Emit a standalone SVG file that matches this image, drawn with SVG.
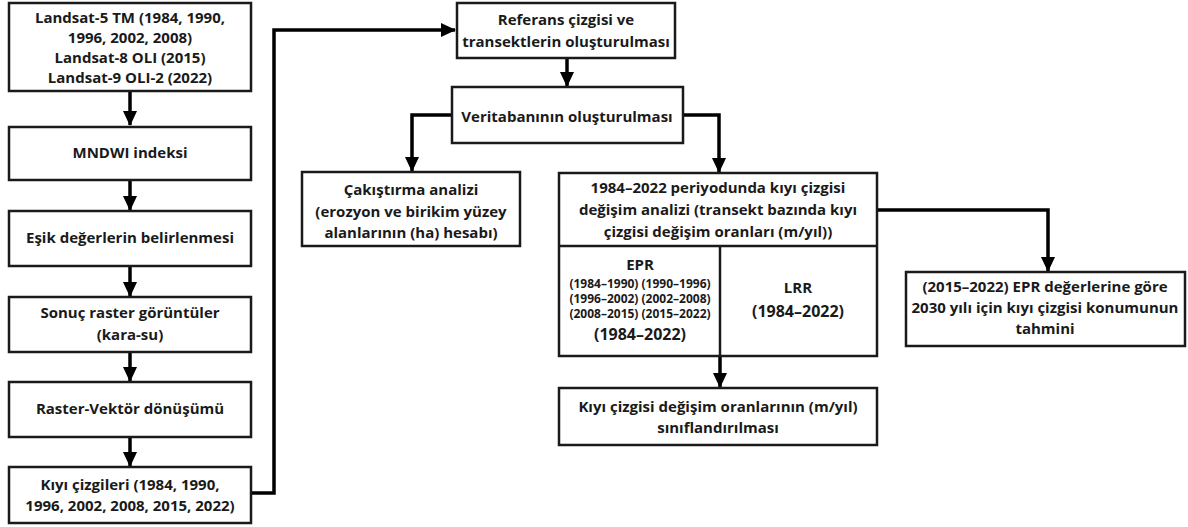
<svg xmlns="http://www.w3.org/2000/svg" width="1188" height="527" viewBox="0 0 1188 527">
<style>
.box{fill:#fff;stroke:#1a1a1a;stroke-width:2.5}
.t{font-family:"Open Sans","Noto Sans","Liberation Sans",sans-serif;font-weight:700;font-size:15px;fill:#1a1a1a;text-anchor:middle}
.s{font-size:12px}
.l{font-size:16px}
.c{fill:none;stroke:#000;stroke-width:3.5}
</style>
<defs>
<marker id="ah" markerUnits="userSpaceOnUse" markerWidth="16" markerHeight="16" viewBox="0 0 16 16" refX="14" refY="8" orient="auto">
<path d="M0,1 L15,8 L0,15 Z" fill="#000"/>
</marker>
</defs>
<g id="connectors">
<line class="c" x1="130" y1="92" x2="130" y2="125" marker-end="url(#ah)"/>
<line class="c" x1="130" y1="181" x2="130" y2="210" marker-end="url(#ah)"/>
<line class="c" x1="130" y1="266" x2="130" y2="296" marker-end="url(#ah)"/>
<line class="c" x1="130" y1="352" x2="130" y2="381" marker-end="url(#ah)"/>
<line class="c" x1="130" y1="437" x2="130" y2="466" marker-end="url(#ah)"/>
<polyline class="c" points="251,493 274,493 274,30 455,30" marker-end="url(#ah)"/>
<line class="c" x1="567" y1="59" x2="567" y2="86" marker-end="url(#ah)"/>
<polyline class="c" points="452,115 412,115 412,171" marker-end="url(#ah)"/>
<polyline class="c" points="683,115 719,115 719,172" marker-end="url(#ah)"/>
<line class="c" x1="720" y1="356" x2="720" y2="387" marker-end="url(#ah)"/>
<polyline class="c" points="877,210 1048,210 1048,271" marker-end="url(#ah)"/>
</g>
<g id="n1"><rect class="box" x="9" y="3" width="242" height="88"/>
<text class="t" x="130" y="23">Landsat-5 TM (1984, 1990,</text>
<text class="t" x="130" y="43">1996, 2002, 2008)</text>
<text class="t" x="130" y="63">Landsat-8 OLI (2015)</text>
<text class="t" x="130" y="83">Landsat-9 OLI-2 (2022)</text></g>
<g id="n2"><rect class="box" x="9" y="127" width="242" height="53"/>
<text class="t" x="130" y="158">MNDWI indeksi</text></g>
<g id="n3"><rect class="box" x="9" y="211" width="242" height="55"/>
<text class="t" x="130" y="243">Eşik değerlerin belirlenmesi</text></g>
<g id="n4"><rect class="box" x="9" y="297" width="242" height="55"/>
<text class="t" x="130" y="318">Sonuç raster görüntüler</text>
<text class="t" x="130" y="340">(kara-su)</text></g>
<g id="n5"><rect class="box" x="9" y="382" width="242" height="55"/>
<text class="t" x="130" y="414">Raster-Vektör dönüşümü</text></g>
<g id="n6"><rect class="box" x="9" y="467" width="242" height="56"/>
<text class="t" x="130" y="490">Kıyı çizgileri (1984, 1990,</text>
<text class="t" x="130" y="511">1996, 2002, 2008, 2015, 2022)</text></g>
<g id="n7"><rect class="box" x="457" y="3" width="218" height="55"/>
<text class="t" x="566" y="25">Referans çizgisi ve</text>
<text class="t" x="566" y="47">transektlerin oluşturulması</text></g>
<g id="n8"><rect class="box" x="452" y="87" width="231" height="56"/>
<text class="t" x="567" y="122">Veritabanının oluşturulması</text></g>
<g id="n9"><rect class="box" x="302" y="172" width="218" height="74"/>
<text class="t" x="411" y="195">Çakıştırma analizi</text>
<text class="t" x="411" y="217">(erozyon ve birikim yüzey</text>
<text class="t" x="411" y="238">alanlarının (ha) hesabı)</text></g>
<g id="n10"><rect class="box" x="559" y="173" width="318" height="183"/>
<line x1="559" y1="246" x2="877" y2="246" stroke="#1a1a1a" stroke-width="2.5"/>
<line x1="720" y1="246" x2="720" y2="356" stroke="#1a1a1a" stroke-width="2.5"/>
<text class="t" x="718" y="193">1984–2022 periyodunda kıyı çizgisi</text>
<text class="t" x="718" y="215">değişim analizi (transekt bazında kıyı</text>
<text class="t" x="718" y="237">çizgisi değişim oranları (m/yıl))</text>
<text class="t" x="640" y="270">EPR</text>
<text class="t s" x="640" y="288">(1984–1990) (1990–1996)</text>
<text class="t s" x="640" y="303">(1996–2002) (2002–2008)</text>
<text class="t s" x="640" y="318">(2008–2015) (2015–2022)</text>
<text class="t l" x="640" y="340">(1984–2022)</text>
<text class="t" x="798" y="293">LRR</text>
<text class="t l" x="798" y="317">(1984–2022)</text></g>
<g id="n11"><rect class="box" x="559" y="388" width="318" height="57"/>
<text class="t" x="718" y="412">Kıyı çizgisi değişim oranlarının (m/yıl)</text>
<text class="t" x="718" y="433">sınıflandırılması</text></g>
<g id="n12"><rect class="box" x="906" y="272" width="279" height="74"/>
<text class="t" x="1045" y="292">(2015–2022) EPR değerlerine göre</text>
<text class="t" x="1045" y="313">2030 yılı için kıyı çizgisi konumunun</text>
<text class="t" x="1045" y="334">tahmini</text></g>
</svg>
